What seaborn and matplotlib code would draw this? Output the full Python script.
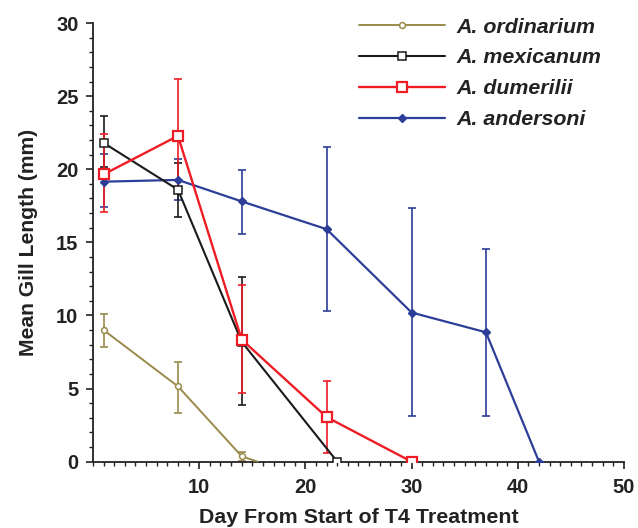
import numpy as np
import pandas as pd
import matplotlib
matplotlib.use("Agg")
import matplotlib.pyplot as plt
from matplotlib.ticker import MultipleLocator
from matplotlib.lines import Line2D
import seaborn as sns

# ---- data ----
ord_day = [1, 8, 14, 15.5]
ord_mean = [9.0, 5.15, 0.37, 0.0]
ord_lo = [7.85, 3.35, 0.05, np.nan]
ord_hi = [10.1, 6.85, 0.68, np.nan]

mex_day = [1, 8, 14, 23]
mex_mean = [21.8, 18.6, 8.2, 0.0]
mex_lo = [20.15, 16.7, 3.9, np.nan]
mex_hi = [23.65, 20.45, 12.65, np.nan]

dum_day = [1, 8, 14, 22, 30]
dum_mean = [19.65, 22.28, 8.35, 3.05, 0.0]
dum_lo = [17.05, 18.4, 4.7, 0.6, np.nan]
dum_hi = [22.4, 26.2, 12.1, 5.55, np.nan]

and_day = [1, 8, 14, 22, 30, 37, 42]
and_mean = [19.15, 19.27, 17.8, 15.9, 10.2, 8.85, 0.0]
and_lo = [17.4, 17.9, 15.6, 10.3, 3.1, 3.15, np.nan]
and_hi = [21.05, 20.7, 19.97, 21.5, 17.35, 14.55, np.nan]

species = ["A. ordinarium", "A. mexicanum", "A. dumerilii", "A. andersoni"]
x_ticks = [10, 20, 30, 40, 50]
y_ticks = [0, 5, 10, 15, 20, 25, 30]

series = [
    dict(name=species[0], day=ord_day, mean=ord_mean, lo=ord_lo, hi=ord_hi,
         color="#9a8a4c", marker="o", ms=4.2, mfc="white", lw=1.4, mew=1.1),
    dict(name=species[3], day=and_day, mean=and_mean, lo=and_lo, hi=and_hi,
         color="#2d3e98", marker="D", ms=3.6, mfc="#2d3e98", lw=1.6, mew=1.0),
    dict(name=species[1], day=mex_day, mean=mex_mean, lo=mex_lo, hi=mex_hi,
         color="#1a1a1a", marker="s", ms=6.0, mfc="white", lw=1.5, mew=1.1),
    dict(name=species[2], day=dum_day, mean=dum_mean, lo=dum_lo, hi=dum_hi,
         color="#ee1d25", marker="s", ms=6.8, mfc="white", lw=1.7, mew=1.6),
]

sns.set_theme(style="ticks")
plt.rcParams["font.family"] = ["Liberation Sans", "DejaVu Sans"]

fig = plt.figure(figsize=(6.38, 5.28), dpi=100)
ax = fig.add_axes([0.1458, 0.1256, 0.978 - 0.1458, 0.9564 - 0.1256])

handles = {}
for s in series:
    df = pd.DataFrame({"day": s["day"], "mean": s["mean"],
                       "lo": s["lo"], "hi": s["hi"]})
    m = np.array(s["mean"])
    lo = m - np.array(s["lo"])
    hi = np.array(s["hi"]) - m
    ok = ~np.isnan(lo)
    ax.errorbar(np.array(s["day"])[ok], m[ok], yerr=[lo[ok], hi[ok]],
                fmt="none", ecolor=s["color"], elinewidth=1.2, capsize=3,
                capthick=1.2, zorder=2)
    sns.lineplot(data=df, x="day", y="mean", ax=ax, color=s["color"],
                 linewidth=s["lw"], legend=False, zorder=3)
    mk = df.copy()
    if s["name"] == species[0]:
        mk = mk.iloc[:-1]
    sns.lineplot(data=mk, x="day", y="mean", ax=ax, color=s["color"],
                 linestyle="none", marker=s["marker"], markersize=s["ms"],
                 markerfacecolor=s["mfc"], markeredgecolor=s["color"],
                 markeredgewidth=s["mew"], legend=False, zorder=4)
    handles[s["name"]] = Line2D([], [], color=s["color"], linewidth=s["lw"],
                                marker=s["marker"], markersize=s["ms"],
                                markerfacecolor=s["mfc"],
                                markeredgecolor=s["color"],
                                markeredgewidth=s["mew"])

ax.set_xlim(0, 50)
ax.set_ylim(0, 30)
ax.set_xticks(x_ticks)
ax.set_yticks(y_ticks)
ax.xaxis.set_minor_locator(MultipleLocator(1))
ax.yaxis.set_minor_locator(MultipleLocator(1))
ax.tick_params(axis="both", which="major", direction="out", length=5,
               width=1.2, color="#222222", labelsize=14.5)
ax.tick_params(axis="x", which="major", pad=7)
ax.tick_params(axis="y", which="major", pad=5.5)
ax.tick_params(axis="both", which="minor", direction="out", length=3,
               width=1.0, color="#222222")
for lab in ax.get_xticklabels() + ax.get_yticklabels():
    lab.set_fontweight("bold")
    lab.set_color("#222222")
for sp in ["top", "right"]:
    ax.spines[sp].set_visible(False)
for sp in ["left", "bottom"]:
    ax.spines[sp].set_linewidth(1.3)
    ax.spines[sp].set_color("#222222")

ax.set_xlabel("Day From Start of T4 Treatment", fontsize=15.4,
              fontweight="bold", color="#222222", labelpad=8)
ax.set_ylabel("Mean Gill Length (mm)", fontsize=15.2,
              fontweight="bold", color="#222222", labelpad=13)

leg = ax.legend([handles[n] for n in species], species, loc="upper right",
                bbox_to_anchor=(0.994, 1.056), frameon=False, handlelength=4.0,
                handletextpad=0.56, labelspacing=0.55,
                prop={"size": 15.4, "weight": "bold", "style": "italic"})
for t in leg.get_texts():
    t.set_color("#222222")

fig.savefig("out.png", dpi=100)
